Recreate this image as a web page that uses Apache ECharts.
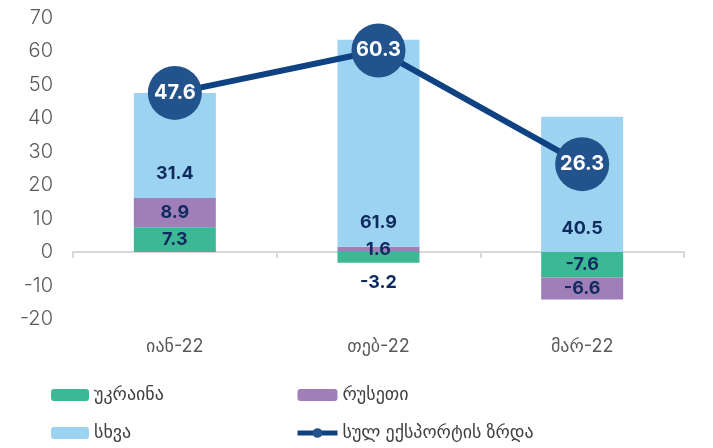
<!DOCTYPE html>
<html>
<head>
<meta charset="utf-8">
<script src="https://cdn.jsdelivr.net/npm/echarts@6/dist/echarts.min.js"></script>
<style>
	html, body { margin: 0; padding: 0; background: #fff; }
	#chart { width: 713px; height: 448px; }
</style>
</head>
<body>
<div id="chart"></div>
<script>
	var categories = ["იან-22", "თებ-22", "მარ-22"];
	var ukraine = [7.3, -3.2, -7.6];
	var russia = [8.9, 1.6, -6.6];
	var other = [31.4, 61.9, 40.5];
	var total = [47.6, 60.3, 26.3];
	var names = ["უკრაინა", "რუსეთი", "სხვა", "სულ ექსპორტის ზრდა"];

	var font = 'Inter, "DejaVu Sans", sans-serif';
	var labelColor = "#0f2a5e";

	var chart = echarts.init(document.getElementById("chart"));

	// ukraine labels: the small negative one sits under the bar
	var ukraineData = ukraine.map(function (v) {
		if (v < 0 && v > -5) {
			return { value: v, label: { position: "bottom", distance: 11 } };
		}
		return v;
	});

	chart.setOption({
		animation: false,
		textStyle: { fontFamily: font },
		grid: {
			left: 73,
			right: 29,
			top: 18,
			bottom: 129
		},
		legend: [
			{
				orient: "vertical",
				left: 46,
				top: 381,
				height: 66,
				itemWidth: 38,
				itemHeight: 12,
				itemGap: 20,
				data: [names[0], names[2]],
				textStyle: { fontSize: 18, color: "#404040", fontFamily: font }
			},
			{
				orient: "vertical",
				left: 290,
				top: 381,
				height: 66,
				itemWidth: 40,
				itemHeight: 12,
				itemGap: 20,
				lineStyle: { width: 5 },
				data: [names[1], names[3]],
				textStyle: { fontSize: 18, color: "#404040", fontFamily: font }
			}
		],
		xAxis: {
			type: "category",
			data: categories,
			axisLine: {
				show: true,
				onZero: true,
				lineStyle: { color: "#d9d9d9", width: 2 }
			},
			axisTick: {
				show: true,
				length: 6,
				lineStyle: { color: "#d9d9d9", width: 2 }
			},
			axisLabel: {
				margin: 19,
				fontSize: 18,
				color: "#595959"
			}
		},
		yAxis: {
			type: "value",
			min: -20,
			max: 70,
			interval: 10,
			axisLine: { show: false },
			axisTick: { show: false },
			splitLine: { show: false },
			axisLabel: {
				margin: 20,
				fontSize: 20,
				fontWeight: 300,
				color: "#595959"
			}
		},
		series: [
			{
				name: names[0],
				type: "bar",
				stack: "a",
				barWidth: 82,
				data: ukraineData,
				itemStyle: { color: "#3cb894" },
				label: {
					show: true,
					position: "inside",
					fontSize: 18,
					fontWeight: "bold",
					color: labelColor
				}
			},
			{
				name: names[1],
				type: "bar",
				stack: "a",
				data: russia,
				itemStyle: { color: "#a07fb9" },
				label: {
					show: true,
					position: "inside",
					fontSize: 18,
					fontWeight: "bold",
					color: labelColor
				}
			},
			{
				name: names[2],
				type: "bar",
				stack: "a",
				data: other,
				itemStyle: { color: "#9cd3f0" },
				label: {
					show: true,
					position: "insideBottom",
					distance: 15,
					fontSize: 18,
					fontWeight: "bold",
					color: labelColor
				}
			},
			{
				name: names[3],
				type: "line",
				data: total,
				z: 5,
				symbol: "circle",
				symbolSize: 54,
				lineStyle: { color: "#0f4283", width: 6 },
				itemStyle: { color: "#23538c" },
				label: {
					show: true,
					position: "inside",
					fontSize: 20,
					fontWeight: "bold",
					color: "#ffffff"
				}
			}
		]
	});
</script>
</body>
</html>
